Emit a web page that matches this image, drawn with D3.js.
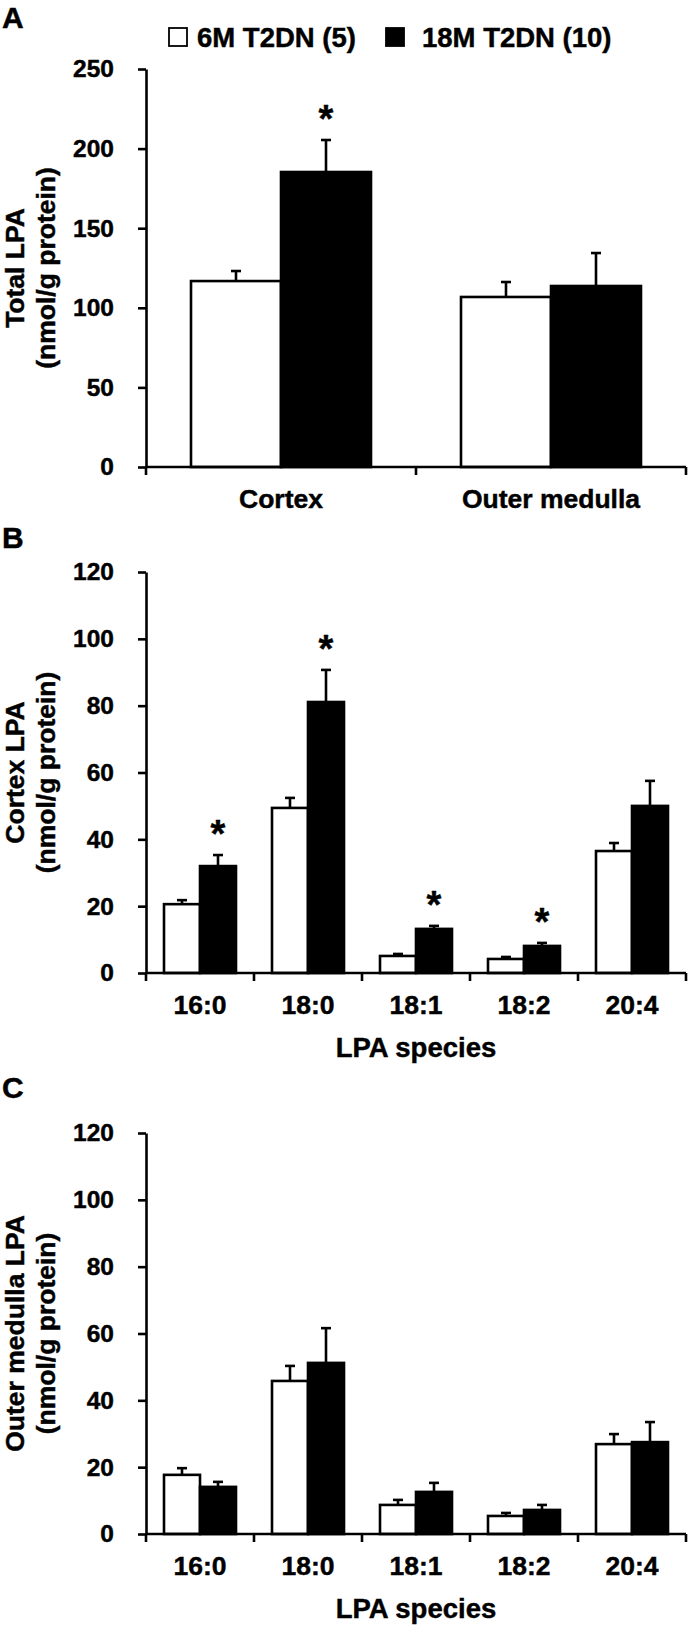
<!DOCTYPE html>
<html><head><meta charset="utf-8">
<script src="https://cdn.jsdelivr.net/npm/d3@7"></script>
<style>
body{margin:0;background:#fff}
svg{display:block}
text{font-family:"Liberation Sans",Arial,sans-serif;font-weight:bold;fill:#000;stroke:#000;stroke-width:0.45px}
</style>
</head><body>
<svg id="chart" width="690" height="1627"></svg>
<script>
// ---------- data ----------
const seriesNames = ["6M T2DN (5)", "18M T2DN (10)"];
const seriesFill = ["#ffffff", "#000000"];

// Panel A: total LPA
const regions = ["Cortex", "Outer medulla"];
const total6M = [116.8, 106.8];
const total6MErr = [6.3, 9.4];
const total18M = [185.3, 113.7];
const total18MErr = [20.1, 20.7];
const totalSig = [true, false];
const ticksA = [0, 50, 100, 150, 200, 250];

// Panel B: cortex LPA species
const species = ["16:0", "18:0", "18:1", "18:2", "20:4"];
const cortex6M = [20.6, 49.4, 5.1, 4.2, 36.5];
const cortex6MErr = [1.2, 3.0, 0.6, 0.6, 2.4];
const cortex18M = [32.0, 81.1, 13.2, 8.1, 50.0];
const cortex18MErr = [3.3, 9.6, 0.9, 0.9, 7.5];
const cortexSig = [true, true, true, true, false];

// Panel C: outer medulla LPA species
const medulla6M = [17.7, 45.8, 8.7, 5.4, 26.9];
const medulla6MErr = [2.0, 4.5, 1.5, 0.9, 3.0];
const medulla18M = [14.1, 51.2, 12.6, 7.2, 27.5];
const medulla18MErr = [1.5, 10.4, 2.7, 1.5, 6.0];
const medullaSig = [false, false, false, false, false];
const ticksBC = [0, 20, 40, 60, 80, 100, 120];

// ---------- drawing ----------
const svg = d3.select("#chart");
svg.append("rect").attr("width", 690).attr("height", 1627).attr("fill", "#fff");

const X_LEFT = 146, X_RIGHT = 686, LW = 2.6;

function panel(o) {
  const g = svg.append("g");
  const x0 = d3.scaleBand().domain(o.cats).range([X_LEFT, X_RIGHT]).padding(0);
  const bw = x0.bandwidth();
  const x1 = d3.scaleBand().domain([0, 1]).range([bw / 6, bw * 5 / 6]).padding(0);
  const y = d3.scaleLinear().domain([0, o.max]).range([o.yBottom, o.yTop]);

  const rows = [];
  o.cats.forEach((c, j) => {
    [0, 1].forEach(i => {
      rows.push({c, i, j, v: o.means[i][j], e: o.errs[i][j]});
    });
  });

  // bars
  g.selectAll("rect.bar").data(rows).join("rect")
    .attr("class", "bar")
    .attr("x", d => x0(d.c) + x1(d.i))
    .attr("width", x1.bandwidth())
    .attr("y", d => y(d.v))
    .attr("height", d => y(0) - y(d.v))
    .attr("fill", d => seriesFill[d.i])
    .attr("stroke", "#000").attr("stroke-width", LW);

  // error bars (upper only)
  const cx = d => x0(d.c) + x1(d.i) + x1.bandwidth() / 2;
  g.selectAll("line.err").data(rows).join("line")
    .attr("x1", cx).attr("x2", cx)
    .attr("y1", d => y(d.v)).attr("y2", d => y(d.v + d.e))
    .attr("stroke", "#000").attr("stroke-width", LW);
  g.selectAll("line.cap").data(rows).join("line")
    .attr("x1", d => cx(d) - 5).attr("x2", d => cx(d) + 5)
    .attr("y1", d => y(d.v + d.e)).attr("y2", d => y(d.v + d.e))
    .attr("stroke", "#000").attr("stroke-width", LW);

  // significance stars
  g.selectAll("text.star").data(rows.filter(d => d.i === 1 && o.sig[d.j])).join("text")
    .attr("x", cx).attr("y", d => y(d.v + d.e) - 8)
    .attr("text-anchor", "middle").attr("font-size", 38).text("*");

  // y axis
  const ya = g.append("g").attr("transform", `translate(${X_LEFT},0)`)
    .call(d3.axisLeft(y).tickValues(o.ticks).tickSize(8).tickSizeOuter(0).tickPadding(24));
  ya.attr("font-family", null).attr("font-size", null);
  ya.selectAll("path.domain").attr("stroke-width", LW);
  ya.selectAll(".tick line").attr("stroke-width", LW);
  ya.selectAll(".tick text").attr("font-size", 24.5).attr("fill", "#000");

  // x axis with boundary ticks
  const bounds = o.cats.map(c => x0(c)).concat([x0.range()[1]]);
  g.append("line").attr("x1", X_LEFT).attr("x2", X_RIGHT)
    .attr("y1", y(0)).attr("y2", y(0)).attr("stroke", "#000").attr("stroke-width", LW);
  g.selectAll("line.xt").data(bounds).join("line")
    .attr("x1", d => d).attr("x2", d => d)
    .attr("y1", y(0)).attr("y2", y(0) + 8)
    .attr("stroke", "#000").attr("stroke-width", LW);
  g.selectAll("text.cat").data(o.cats).join("text")
    .attr("x", d => x0(d) + bw / 2).attr("y", y(0) + 41)
    .attr("text-anchor", "middle").attr("font-size", 26.5).text(d => d);

  if (o.xTitle) {
    g.append("text").attr("x", (X_LEFT + X_RIGHT) / 2).attr("y", y(0) + 84)
      .attr("text-anchor", "middle").attr("font-size", 27.5).text(o.xTitle);
  }

  // y title (two lines)
  const cy = (o.yTop + o.yBottom) / 2;
  o.yTitle.forEach((t, k) => {
    g.append("text")
      .attr("transform", `translate(${k === 0 ? 24 : 55},${cy}) rotate(-90)`)
      .attr("text-anchor", "middle").attr("font-size", 26.5).text(t);
  });

  // panel letter
  g.append("text").attr("x", 2).attr("y", o.letterY).attr("font-size", 30).text(o.letter);
}

panel({
  letter: "A", letterY: 28,
  cats: regions, max: 250, ticks: ticksA, yTop: 69, yBottom: 467,
  means: [total6M, total18M], errs: [total6MErr, total18MErr], sig: totalSig,
  yTitle: ["Total LPA", "(nmol/g protein)"]
});
panel({
  letter: "B", letterY: 548,
  cats: species, max: 120, ticks: ticksBC, yTop: 572, yBottom: 973,
  means: [cortex6M, cortex18M], errs: [cortex6MErr, cortex18MErr], sig: cortexSig,
  yTitle: ["Cortex LPA", "(nmol/g protein)"], xTitle: "LPA species"
});
panel({
  letter: "C", letterY: 1098,
  cats: species, max: 120, ticks: ticksBC, yTop: 1133, yBottom: 1534,
  means: [medulla6M, medulla18M], errs: [medulla6MErr, medulla18MErr], sig: medullaSig,
  yTitle: ["Outer medulla LPA", "(nmol/g protein)"], xTitle: "LPA species"
});

// legend
const legX = [169, 386], legTextX = [197, 422];
const leg = svg.append("g");
seriesNames.forEach((s, i) => {
  leg.append("rect").attr("x", legX[i]).attr("y", 28).attr("width", 18).attr("height", 18)
    .attr("fill", seriesFill[i]).attr("stroke", "#000").attr("stroke-width", 1.8);
  leg.append("text").attr("x", legTextX[i]).attr("y", 46.5).attr("font-size", 27.5).text(s);
});
</script>
</body></html>
